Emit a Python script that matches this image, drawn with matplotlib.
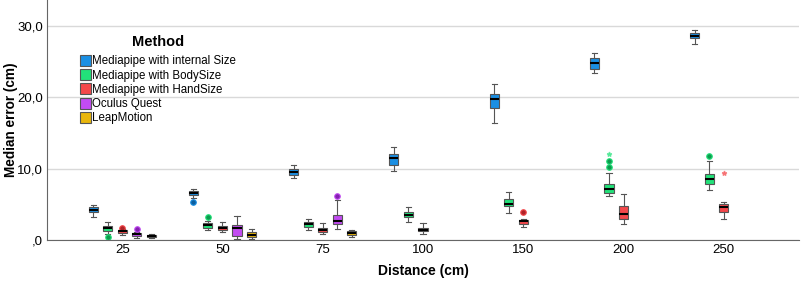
import matplotlib
matplotlib.use('agg')
import matplotlib.pyplot as plt
from matplotlib.patches import Patch

plt.rcParams['font.family'] = ['Liberation Sans', 'DejaVu Sans']

distances = ['25', '50', '75', '100', '150', '200', '250']
methods = ['Mediapipe with internal Size', 'Mediapipe with BodySize',
           'Mediapipe with HandSize', 'Oculus Quest', 'LeapMotion']
colors = ['#1A8FE3', '#22E27A', '#F4484B', '#C24BF2', '#E9B60C']
dark_colors = ['#0B5FA0', '#0E9A4E', '#B02328', '#8420B0', '#A07C00']

# (whislo, q1, median, q3, whishi) per distance, None = not measured
internal_size = [(3.2, 3.9, 4.2, 4.6, 4.9), (5.9, 6.26, 6.54, 6.87, 7.1),
                 (8.74, 9.07, 9.5, 9.9, 10.5), (9.7, 10.56, 11.5, 12.1, 13.0),
                 (16.4, 18.5, 19.8, 20.4, 21.8), (23.4, 23.9, 24.8, 25.5, 26.2),
                 (27.5, 28.27, 28.6, 28.97, 29.4)]
body_size = [(0.9, 1.3, 1.64, 1.96, 2.5), (1.4, 1.73, 2.06, 2.34, 2.7),
             (1.4, 1.82, 2.2, 2.48, 2.9), (2.48, 3.18, 3.55, 3.93, 4.58),
             (3.74, 4.72, 5.09, 5.7, 6.78), (6.12, 6.54, 7.2, 7.85, 9.35),
             (6.96, 7.85, 8.6, 9.3, 11.03)]
hand_size = [(0.65, 1.0, 1.2, 1.4, 1.55), (1.07, 1.4, 1.68, 1.96, 2.57),
             (0.84, 1.17, 1.45, 1.73, 2.34), (0.89, 1.21, 1.45, 1.68, 2.34),
             (1.82, 2.2, 2.62, 2.85, 2.94), (2.24, 2.99, 3.64, 4.77, 6.4),
             (2.9, 3.97, 4.58, 5.0, 5.37)]
oculus = [(0.3, 0.56, 0.8, 0.93, 1.07), (0.14, 0.6, 1.68, 2.1, 3.36),
          (1.54, 2.2, 2.71, 3.5, 5.56), None, None, None, None]
leap = [(0.33, 0.42, 0.56, 0.75, 0.8), (0.14, 0.37, 0.75, 1.07, 1.59),
        (0.37, 0.75, 0.98, 1.21, 1.45), None, None, None, None]

# outliers (circles) and extremes (stars) per distance
internal_out = [[], [5.28], [], [], [], [], []]
body_out = [[0.37], [3.22], [], [], [], [10.19, 11.07], [11.78]]
hand_out = [[1.73], [], [], [], [3.93], [], []]
oculus_out = [[1.5], [], [6.17], [], [], [], []]
leap_out = [[], [], [], [], [], [], []]
body_ext = [[], [], [], [], [], [12.0], []]
hand_ext = [[], [], [], [], [], [], [9.39]]

all_stats = [internal_size, body_size, hand_size, oculus, leap]
all_out = [internal_out, body_out, hand_out, oculus_out, leap_out]
all_ext = [[[]] * 7, body_ext, hand_ext, [[]] * 7, [[]] * 7]
offsets = [-0.29, -0.145, 0.0, 0.145, 0.29]

fig = plt.figure(figsize=(8.03, 2.82), dpi=100)
ax = fig.add_axes([47 / 803, 42 / 282, 752 / 803, 240 / 282])

for m in range(len(methods)):
    for i, s in enumerate(all_stats[m]):
        if s is None:
            continue
        st = dict(whislo=s[0], q1=s[1], med=s[2], q3=s[3], whishi=s[4],
                  fliers=all_out[m][i])
        ax.bxp([st], positions=[i + offsets[m]], widths=0.09, patch_artist=True,
               capwidths=0.05,
               boxprops=dict(facecolor=colors[m], edgecolor='#555555', linewidth=0.8),
               medianprops=dict(color='black', linewidth=1.5),
               whiskerprops=dict(color='#555555', linewidth=0.8),
               capprops=dict(color='#555555', linewidth=0.8),
               flierprops=dict(marker='o', markersize=4, markerfacecolor=dark_colors[m],
                               markeredgecolor=colors[m], markeredgewidth=0.8))
        ext = all_ext[m][i]
        if ext:
            ax.plot([i + offsets[m]] * len(ext), ext, linestyle='none', marker='*',
                    markersize=3.5, color=colors[m], alpha=0.6)

ax.set_xlim(-0.75, 6.75)
ax.set_ylim(0, 33.6)
ax.set_xticks(range(len(distances)))
ax.set_xticklabels(distances, fontsize=9.5)
ax.set_yticks([0, 10, 20, 30])
ax.set_yticklabels([',0', '10,0', '20,0', '30,0'], fontsize=9.5)
ax.tick_params(length=0, pad=3)
ax.yaxis.grid(True, color='#d9d9d9', linewidth=1)
ax.set_axisbelow(True)
for sp in ['top', 'right']:
    ax.spines[sp].set_visible(False)
for sp in ['left', 'bottom']:
    ax.spines[sp].set_color('#666666')
    ax.spines[sp].set_linewidth(0.8)

ax.set_xlabel('Distance (cm)', fontsize=10, fontweight='bold', labelpad=6)
ax.set_ylabel('Median error (cm)', fontsize=9.8, fontweight='bold')
ax.yaxis.set_label_coords(-29 / 752, 0.5)

handles = [Patch(facecolor=c, edgecolor='#555555', linewidth=0.8) for c in colors]
leg = ax.legend(handles, methods, title='Method', loc='upper left',
                bbox_to_anchor=(0.036, 0.88), frameon=False, fontsize=8.3,
                handlelength=0.95, handleheight=1.1, handletextpad=0.12,
                labelspacing=0.16, borderpad=0)
leg.get_title().set_fontweight('bold')
leg.get_title().set_fontsize(10.5)
leg._legend_box.sep = 4.5  # gap between title and entries

fig.savefig('out.png', dpi=100)
